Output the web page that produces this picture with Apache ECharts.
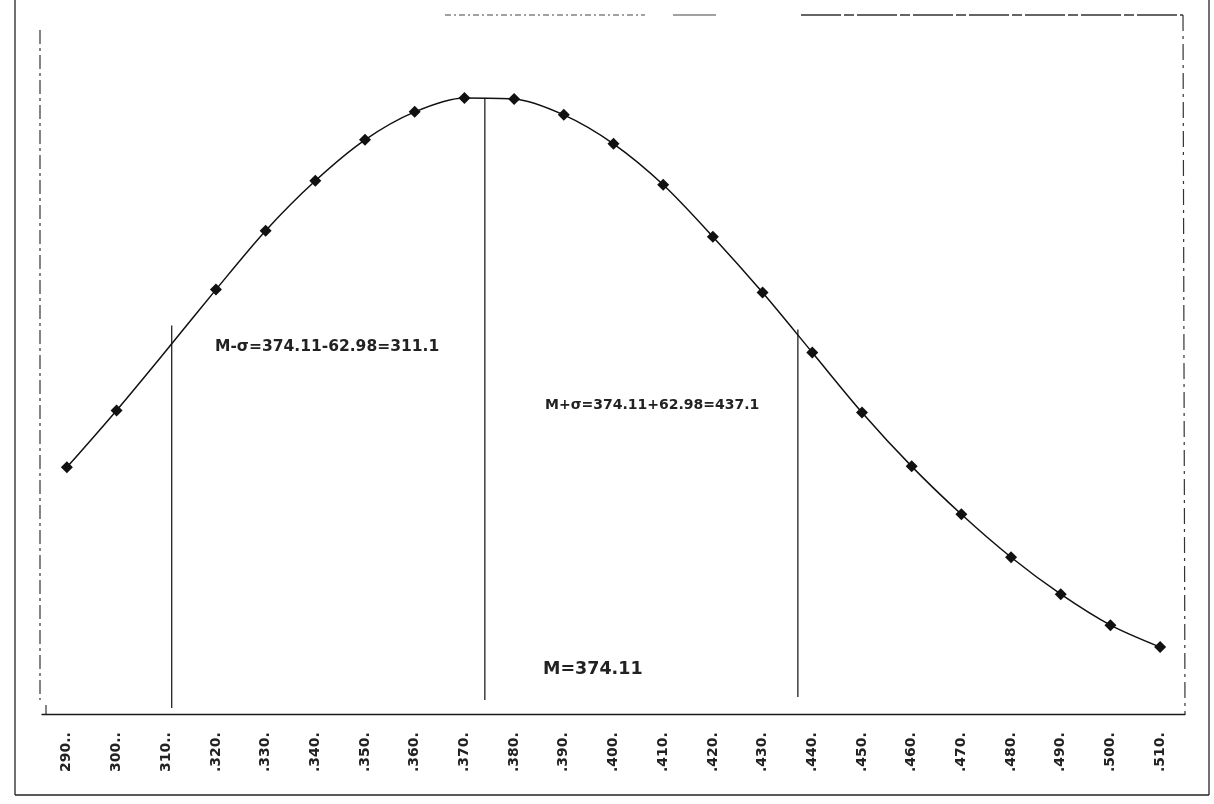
<!DOCTYPE html>
<html>
<head>
<meta charset="utf-8">
<script src="https://cdn.jsdelivr.net/npm/echarts@6/dist/echarts.min.js"></script>
<style>
html,body{margin:0;padding:0;background:#fff;}
#chart{width:1214px;height:804px;}
</style>
</head>
<body>
<div id="chart"></div>
<script>
var categories = ['290..','300..','310..','.320.','.330.','.340.','.350.','.360.','.370.','.380.','.390.','.400.','.410.','.420.','.430.','.440.','.450.','.460.','.470.','.480.','.490.','.500.','.510.'];
var values = [24.7,30.4,36.4,42.5,48.4,53.4,57.5,60.3,61.7,61.6,60.0,57.1,53.0,47.8,42.2,36.2,30.2,24.8,20.0,15.7,12.0,8.9,6.7];
var hiddenMarkerIndex = [2];
var refX = [311.1, 374.11, 437.1];
var refTop = [38.9, 61.7, 38.5];
var refBottom = [0.6, 1.4, 1.7];
var refTexts = ['M-σ=374.11-62.98=311.1', 'M=374.11', 'M+σ=374.11+62.98=437.1'];

var chart = echarts.init(document.getElementById('chart'), null, {renderer:'canvas'});

var curveData = values.map(function(v, i){
  return hiddenMarkerIndex.indexOf(i) >= 0 ? {value: v, symbol: 'none'} : v;
});

var refSeries = refX.map(function(x, i){
  return {
    type: 'line', xAxisIndex: 1, yAxisIndex: 0,
    data: [[x, refBottom[i]], [x, refTop[i]]],
    symbol: 'none', silent: true,
    lineStyle: {color: '#222', width: 1.3},
    z: 1
  };
});

var ink = '#1a1a1a';
var option = {
  backgroundColor: '#fff',
  animation: false,
  grid: {left: 42, right: 29, top: 15, bottom: 90},
  xAxis: [{
    type: 'category',
    data: categories,
    boundaryGap: true,
    axisLine: {show: true, lineStyle: {color: ink, width: 1.4}},
    axisTick: {show: false},
    axisLabel: {
      rotate: 90, align: 'left', margin: 58, interval: 0,
      fontFamily: 'DejaVu Sans', fontSize: 14, fontWeight: 'bold', color: '#222'
    },
    splitLine: {show: false}
  }, {
    type: 'value', min: 285, max: 515, show: false
  }],
  yAxis: [{
    type: 'value', min: 0, max: 70, show: false
  }],
  series: [{
    type: 'line',
    data: curveData,
    smooth: 0.3,
    symbol: 'diamond',
    symbolSize: 12,
    itemStyle: {color: '#111'},
    lineStyle: {color: '#111', width: 1.5},
    z: 3
  }].concat(refSeries),
  graphic: [
    {type:'text', left: 215, top: 339, style:{text: refTexts[0], font: 'bold 15.5px "DejaVu Sans"', fill: '#222'}},
    {type:'text', left: 545, top: 398, style:{text: refTexts[2], font: 'bold 14px "DejaVu Sans"', fill: '#222'}},
    {type:'text', left: 543, top: 660, style:{text: refTexts[1], font: 'bold 17.5px "DejaVu Sans"', fill: '#222'}},
    // outer frame
    {type:'line', shape:{x1:15,y1:0,x2:15,y2:795}, style:{stroke:'#222', lineWidth:1.3}},
    {type:'line', shape:{x1:15,y1:795,x2:1209,y2:795}, style:{stroke:'#222', lineWidth:1.3}},
    {type:'line', shape:{x1:1209,y1:0,x2:1209,y2:795}, style:{stroke:'#222', lineWidth:1.3}},
    // inner (plot) frame
    {type:'line', shape:{x1:40,y1:30,x2:40,y2:700}, style:{stroke:'#333', lineWidth:1.2, lineDash:[14,4,3,4]}},
    {type:'line', shape:{x1:46,y1:705,x2:46,y2:714}, style:{stroke:'#333', lineWidth:1.2}},
    {type:'line', shape:{x1:445,y1:15,x2:645,y2:15}, style:{stroke:'#444', lineWidth:1.2, lineDash:[6,3,2,3]}},
    {type:'line', shape:{x1:673,y1:15,x2:716,y2:15}, style:{stroke:'#444', lineWidth:1.2}},
    {type:'line', shape:{x1:801,y1:15,x2:1183,y2:15}, style:{stroke:'#333', lineWidth:1.3, lineDash:[40,3,10,3]}},
    {type:'line', shape:{x1:1183,y1:15,x2:1185,y2:714}, style:{stroke:'#333', lineWidth:1.2, lineDash:[16,5,3,5]}}
  ]
};
chart.setOption(option);
</script>
</body>
</html>
